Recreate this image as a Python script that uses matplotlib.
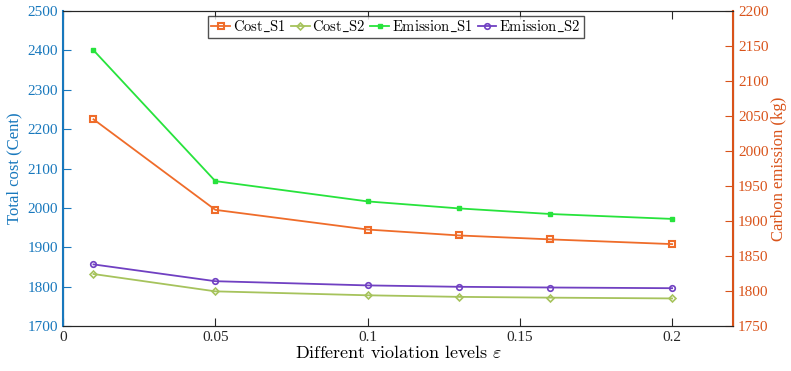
import matplotlib
matplotlib.use("Agg")
import matplotlib.pyplot as plt

# violation levels
eps = [0.01, 0.05, 0.1, 0.13, 0.16, 0.2]

# total cost (Cent), left axis
cost_s1 = [2225, 1995, 1945, 1930, 1920, 1908]
cost_s2 = [1832, 1788, 1778, 1774, 1772, 1770]

# carbon emission (kg), right axis
emission_s1 = [2144, 1957, 1928, 1918, 1910, 1903]
emission_s2 = [1838, 1814, 1808, 1806, 1805, 1804]

left_ticks = [1700, 1800, 1900, 2000, 2100, 2200, 2300, 2400, 2500]
right_ticks = [1750, 1800, 1850, 1900, 1950, 2000, 2050, 2100, 2150, 2200]
x_ticks = [0, 0.05, 0.1, 0.15, 0.2]
x_ticklabels = ["0", "0.05", "0.1", "0.15", "0.2"]

BLUE = "#1878bd"
RED = "#d9531a"
C_COST1 = "#ef6c2a"
C_COST2 = "#a6c35c"
C_EM1 = "#27e33c"
C_EM2 = "#7040c2"

plt.rcParams["font.family"] = "Liberation Serif"
plt.rcParams["mathtext.fontset"] = "cm"

fig = plt.figure(figsize=(7.91, 3.71), dpi=100)
ax = fig.add_axes([0.0797, 0.1213, 0.847, 0.849])
ax2 = ax.twinx()

l1, = ax.plot(eps, cost_s1, color=C_COST1, lw=1.3, marker="s", ms=4,
              mfc="none", mew=1.5, label=r"$\mathrm{Cost\_S1}$")
l2, = ax.plot(eps, cost_s2, color=C_COST2, lw=1.3, marker="D", ms=3.5,
              mfc="none", mew=1.2, label=r"$\mathrm{Cost\_S2}$")
l3, = ax2.plot(eps, emission_s1, color=C_EM1, lw=1.3, marker="s", ms=3.5,
               label=r"$\mathrm{Emission\_S1}$")
l4, = ax2.plot(eps, emission_s2, color=C_EM2, lw=1.3, marker="o", ms=4,
               mfc="none", mew=1.2, label=r"$\mathrm{Emission\_S2}$")

ax.set_xlim(0, 0.22)
ax.set_ylim(1700, 2500)
ax2.set_ylim(1750, 2200)
ax.set_xticks(x_ticks)
ax.set_xticklabels(x_ticklabels)
ax.set_yticks(left_ticks)
ax2.set_yticks(right_ticks)

ax.tick_params(axis="x", direction="in", top=True, length=6, labelsize=11,
               colors="#262626")
ax.tick_params(axis="y", direction="in", length=6, labelsize=11, colors=BLUE)
ax2.tick_params(axis="y", direction="in", length=6, labelsize=11, colors=RED)

for a in (ax, ax2):
    a.spines["top"].set_color("#262626")
    a.spines["bottom"].set_color("#262626")
ax2.spines["left"].set_color(BLUE)
ax2.spines["left"].set_linewidth(1.5)
ax2.spines["right"].set_color(RED)
ax2.spines["right"].set_linewidth(1.5)

ax.set_ylabel("Total cost (Cent)", color=BLUE, fontsize=12, labelpad=4)
ax2.set_ylabel("Carbon emission (kg)", color=RED, fontsize=12, labelpad=2)
ax.set_xlabel(r"$\mathrm{Different\ violation\ levels}\ \varepsilon$",
              fontsize=13, labelpad=1)

leg = ax.legend(handles=[l1, l2, l3, l4], ncol=4, loc="upper center",
                bbox_to_anchor=(0.497, 0.995), fontsize=10.5, frameon=True,
                fancybox=False, edgecolor="#262626", handlelength=1.3,
                handletextpad=0.2, columnspacing=0.3, borderpad=0.25,
                borderaxespad=0.2)
leg.get_frame().set_linewidth(1.0)

fig.savefig("out.png", dpi=100)
